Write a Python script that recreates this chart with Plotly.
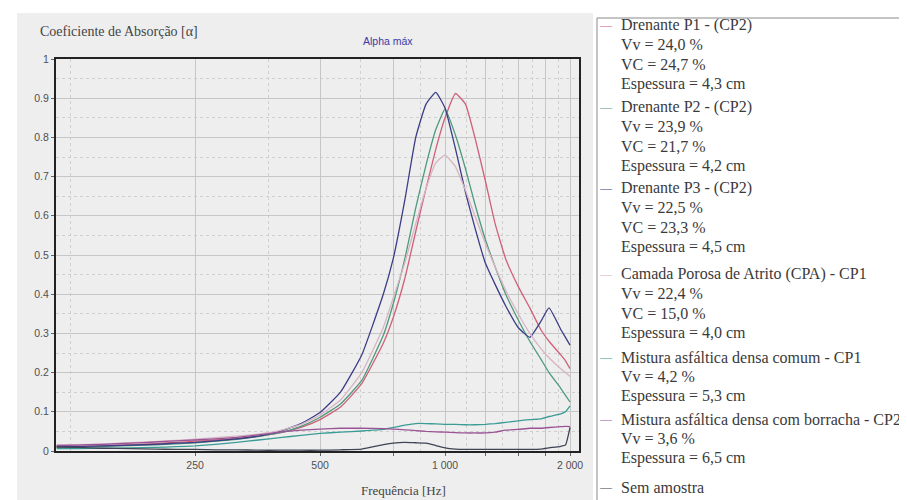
import math
import plotly.graph_objects as go

# ---------------- data ----------------
freqs = [116, 130, 150, 175, 200, 225, 250, 280, 315, 355, 400, 450, 500, 560, 630, 710, 750,
         800, 850, 900, 950, 1000, 1060, 1120, 1180, 1250, 1320, 1400, 1500, 1600, 1700, 1780,
         1900, 1950, 2000]

drenante_p1 = [0.010, 0.011, 0.013, 0.016, 0.019, 0.022, 0.025, 0.028, 0.032, 0.038, 0.046, 0.060,
               0.080, 0.112, 0.172, 0.275, 0.340, 0.440, 0.560, 0.670, 0.770, 0.850, 0.912, 0.885,
               0.800, 0.690, 0.580, 0.490, 0.420, 0.365, 0.310, 0.280, 0.245, 0.230, 0.210]
drenante_p2 = [0.010, 0.010, 0.012, 0.014, 0.016, 0.018, 0.021, 0.025, 0.030, 0.037, 0.047, 0.063,
               0.086, 0.120, 0.180, 0.295, 0.375, 0.490, 0.620, 0.730, 0.820, 0.872, 0.805, 0.720,
               0.630, 0.540, 0.470, 0.400, 0.335, 0.280, 0.235, 0.200, 0.160, 0.142, 0.125]
drenante_p3 = [0.012, 0.012, 0.013, 0.015, 0.017, 0.020, 0.022, 0.026, 0.031, 0.038, 0.050, 0.070,
               0.098, 0.150, 0.245, 0.400, 0.490, 0.640, 0.800, 0.885, 0.915, 0.875, 0.770, 0.660,
               0.570, 0.480, 0.425, 0.370, 0.315, 0.290, 0.330, 0.365, 0.310, 0.290, 0.270]
cpa_cp1 = [0.015, 0.016, 0.018, 0.021, 0.024, 0.027, 0.030, 0.034, 0.038, 0.043, 0.052, 0.068,
           0.092, 0.130, 0.200, 0.315, 0.390, 0.480, 0.580, 0.670, 0.735, 0.755, 0.725, 0.665,
           0.600, 0.530, 0.470, 0.410, 0.350, 0.300, 0.262, 0.238, 0.210, 0.200, 0.190]
densa_comum = [0.006, 0.006, 0.007, 0.008, 0.009, 0.011, 0.013, 0.017, 0.022, 0.028, 0.034, 0.040,
               0.045, 0.048, 0.051, 0.055, 0.060, 0.066, 0.070, 0.070, 0.069, 0.068, 0.068, 0.067,
               0.067, 0.068, 0.070, 0.073, 0.077, 0.080, 0.082, 0.088, 0.095, 0.100, 0.115]
densa_borracha = [0.014, 0.015, 0.017, 0.020, 0.023, 0.026, 0.028, 0.031, 0.035, 0.041, 0.048, 0.053,
                  0.056, 0.058, 0.058, 0.057, 0.056, 0.054, 0.052, 0.050, 0.049, 0.048, 0.047, 0.046,
                  0.046, 0.046, 0.048, 0.053, 0.055, 0.058, 0.058, 0.060, 0.062, 0.063, 0.062]
sem_amostra = [0.010, 0.009, 0.007, 0.006, 0.005, 0.004, 0.004, 0.003, 0.003, 0.002, 0.002, 0.002,
               0.002, 0.003, 0.005, 0.016, 0.020, 0.022, 0.021, 0.020, 0.014, 0.008, 0.005, 0.004,
               0.004, 0.004, 0.004, 0.004, 0.004, 0.004, 0.005, 0.008, 0.012, 0.015, 0.060]

series_names = ["Drenante P1 - (CP2)", "Drenante P2 - (CP2)", "Drenante P3 - (CP2)",
                "Camada Porosa de Atrito (CPA) - CP1", "Mistura asfáltica densa comum - CP1",
                "Mistura asfáltica densa com borracha - CP2", "Sem amostra"]
series_details = [["Vv = 24,0 %", "VC = 24,7 %", "Espessura = 4,3 cm"],
                  ["Vv = 23,9 %", "VC = 21,7 %", "Espessura = 4,2 cm"],
                  ["Vv = 22,5 %", "VC = 23,3 %", "Espessura = 4,5 cm"],
                  ["Vv = 22,4 %", "VC = 15,0 %", "Espessura = 4,0 cm"],
                  ["Vv = 4,2 %", "Espessura = 5,3 cm"],
                  ["Vv = 3,6 %", "Espessura = 6,5 cm"],
                  []]
series_values = [drenante_p1, drenante_p2, drenante_p3, cpa_cp1, densa_comum, densa_borracha, sem_amostra]
series_colors = ["#d0607a", "#4e9a7c", "#3c3c86", "#d8b4c4", "#3a9c94", "#9a5496", "#3e4454"]

x_tick_vals = [250, 500, 750, 1000, 1250, 1500, 1750, 2000]
x_tick_text = ["250", "500", "", "1 000", "", "", "", "2 000"]
x_minor_vals = [125, 375, 625, 875, 1125, 1375, 1625, 1875]
y_tick_vals = [0, 0.1, 0.2, 0.3, 0.4, 0.5, 0.6, 0.7, 0.8, 0.9, 1.0]
y_tick_text = ["0", "0.1", "0.2", "0.3", "0.4", "0.5", "0.6", "0.7", "0.8", "0.9", "1"]
y_minor_vals = [0.05, 0.15, 0.25, 0.35, 0.45, 0.55, 0.65, 0.75, 0.85, 0.95]

y_title = "Coeficiente de Absorção [α]"
x_title = "Frequência [Hz]"
max_label = "Alpha máx"

# ---------------- layout geometry (pixels) ----------------
W, H = 907, 500
L, R, T, B = 48, 571, 51, 443


def px(x):
    return (x - L) / (R - L)


def py(y):
    return (B - y) / (B - T)


fig = go.Figure()
for name, vals, col in zip(series_names, series_values, series_colors):
    fig.add_trace(go.Scatter(x=freqs, y=vals, mode="lines", name=name,
                             line=dict(color=col, width=1.3, shape="spline", smoothing=0.4),
                             showlegend=False))

axis_common = dict(showline=True, mirror=True, linecolor="#222222", linewidth=2,
                   ticks="outside", ticklen=3, tickcolor="#666666",
                   tickfont=dict(family="Liberation Sans", size=10.5, color="#505050"),
                   showgrid=True, gridcolor="#c6c6c6", gridwidth=1, zeroline=False)

fig.update_xaxes(type="log", range=[math.log10(115.6), math.log10(2102)],
                 tickmode="array", tickvals=x_tick_vals, ticktext=x_tick_text,
                 minor=dict(tickmode="array", tickvals=x_minor_vals, showgrid=True,
                            griddash="dot", gridcolor="#cfcfcf", ticks=""),
                 **axis_common)
fig.update_yaxes(range=[0, 1], tickmode="array", tickvals=y_tick_vals, ticktext=y_tick_text,
                 minor=dict(tickmode="array", tickvals=y_minor_vals, showgrid=True,
                            griddash="dot", gridcolor="#cfcfcf", ticks=""),
                 **axis_common)

shapes = [
    # grey chart panel
    dict(type="rect", xref="paper", yref="paper", x0=px(9), x1=px(585), y0=py(492), y1=py(5),
         fillcolor="#eeeeee", line=dict(width=0), layer="below"),
    # legend box
    dict(type="rect", xref="paper", yref="paper", x0=px(589), x1=px(906), y0=py(494), y1=py(10),
         fillcolor="#ffffff", line=dict(color="#8a8a8a", width=1), layer="below"),
]

annotations = [
    dict(text=y_title, xref="paper", yref="paper", x=px(30), y=py(24), xanchor="left",
         yanchor="middle", showarrow=False,
         font=dict(family="Liberation Serif", size=14, color="#444444")),
    dict(text=max_label, xref="paper", yref="paper", x=px(380), y=py(33), xanchor="center",
         yanchor="middle", showarrow=False,
         font=dict(family="Liberation Sans", size=10.5, color="#3a3aa8")),
    dict(text=x_title, xref="paper", yref="paper", x=px(395), y=py(482), xanchor="center",
         yanchor="middle", showarrow=False,
         font=dict(family="Liberation Serif", size=13, color="#444444")),
]

group_top = [17, 99, 180, 266, 349, 411, 479]
line_step = 19.6
legend_font = dict(family="Liberation Serif", size=16, color="#3a3a3a")
for name, details, col, y0 in zip(series_names, series_details, series_colors, group_top):
    annotations.append(dict(text="—", xref="paper", yref="paper", x=px(589), y=py(y0),
                            xanchor="left", yanchor="middle", showarrow=False,
                            font=dict(family="Liberation Serif", size=12, color=col)))
    annotations.append(dict(text=name, xref="paper", yref="paper", x=px(611), y=py(y0),
                            xanchor="left", yanchor="middle", showarrow=False, font=legend_font))
    for i, d in enumerate(details):
        annotations.append(dict(text=d, xref="paper", yref="paper", x=px(611),
                                y=py(y0 + (i + 1) * line_step), xanchor="left",
                                yanchor="middle", showarrow=False, font=legend_font))

fig.update_layout(width=W, height=H, autosize=False,
                  margin=dict(l=L, r=W - R, t=T, b=H - B, pad=0),
                  paper_bgcolor="#ffffff", plot_bgcolor="#eeeeee",
                  showlegend=False, shapes=shapes, annotations=annotations)

fig.write_html("out.html")
